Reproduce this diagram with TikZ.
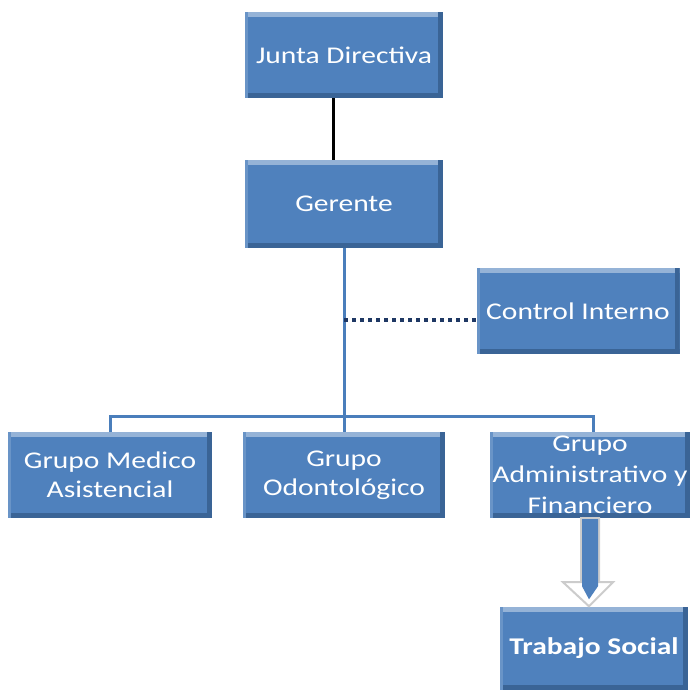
\documentclass[tikz,border=0pt]{standalone}
\usepackage{fontspec}
\setmainfont{Carlito}[FakeStretch=1.23]
\usetikzlibrary{calc}
\definecolor{boxblue}{HTML}{4F81BD}
\definecolor{boxlight}{HTML}{95B3D7}
\definecolor{boxdark}{HTML}{3A6496}
\definecolor{linkblue}{HTML}{4A7EBB}
\definecolor{dotnavy}{HTML}{1F3864}
\tikzset{
  orgbox/.style={fill=boxblue, text=white, align=center, inner sep=2pt,
    font=\fontsize{24}{29}\selectfont,
    path picture={
      \fill[boxlight] (path picture bounding box.north west) rectangle ([yshift=-5pt]path picture bounding box.north east);
      \fill[boxdark] ([xshift=-5pt]path picture bounding box.south east) rectangle (path picture bounding box.north east);
      \fill[boxdark] (path picture bounding box.south west) rectangle ([yshift=5pt]path picture bounding box.south east);
      \fill[boxblue!85!white] (path picture bounding box.south west) rectangle ([xshift=3pt]path picture bounding box.north west);
    }},
  link/.style={draw=linkblue, line width=3pt},
  dotlink/.style={draw=dotnavy, line width=4pt, dash pattern=on 4pt off 4pt},
  blacklink/.style={draw=black, line width=3pt},
}
\begin{document}
\begin{tikzpicture}[x=1pt,y=-1pt]
\useasboundingbox (0,0) rectangle (692,692);
\node[orgbox, minimum width=198pt, minimum height=86pt] (jd) at (344,55) {Junta Directiva};
\node[orgbox, minimum width=198pt, minimum height=88pt] (ger) at (344,204) {Gerente};
\node[orgbox, minimum width=203pt, minimum height=86pt] (ci) at (578,311) {Control Interno};
\node[orgbox, minimum width=204pt, minimum height=86pt] (gm) at (110,475) {Grupo Medico\\Asistencial};
\node[orgbox, minimum width=202pt, minimum height=86pt] (go) at (344,475) {Grupo\\Odontológico};
\node[orgbox, minimum width=200pt, minimum height=86pt, font=\fontsize{24}{31}\selectfont] (ga) at (590,475) {Grupo\\Administrativo y\\Financiero};
\node[orgbox, minimum width=188pt, minimum height=83pt, font=\fontsize{24}{29}\selectfont\bfseries] (ts) at (594,648) {Trabajo Social};
\coordinate (hub) at (344,416);
\coordinate (dp) at (344,320);
% connectors
\draw[blacklink] ([xshift=-11pt]jd.south) -- ([xshift=-11pt]ger.north);
\draw[link] (ger.south) -- (go.north);
\draw[link] (gm.north) |- (hub) -| ([xshift=3pt]ga.north);
\draw[dotlink] (dp) -- (dp -| ci.west);
% block arrow
\draw[fill=white, draw=gray!40, line width=2pt, line join=miter]
  ($(ga.south)+(-9,0)$) -- ($(ga.south)+(9,0)$) -- ($(ga.south)+(9,64)$) --
  ($(ga.south)+(23,64)$) -- ($(ts.north)+(-5,0)$) -- ($(ga.south)+(-27,64)$) --
  ($(ga.south)+(-9,64)$) -- cycle;
\fill[boxblue] ($(ga.south)+(-8,1)$) -- ($(ga.south)+(8,1)$) -- ($(ga.south)+(8,68)$) -- ($(ts.north)+(-5,-7)$) -- ($(ga.south)+(-8,68)$) -- cycle;
\end{tikzpicture}
\end{document}
